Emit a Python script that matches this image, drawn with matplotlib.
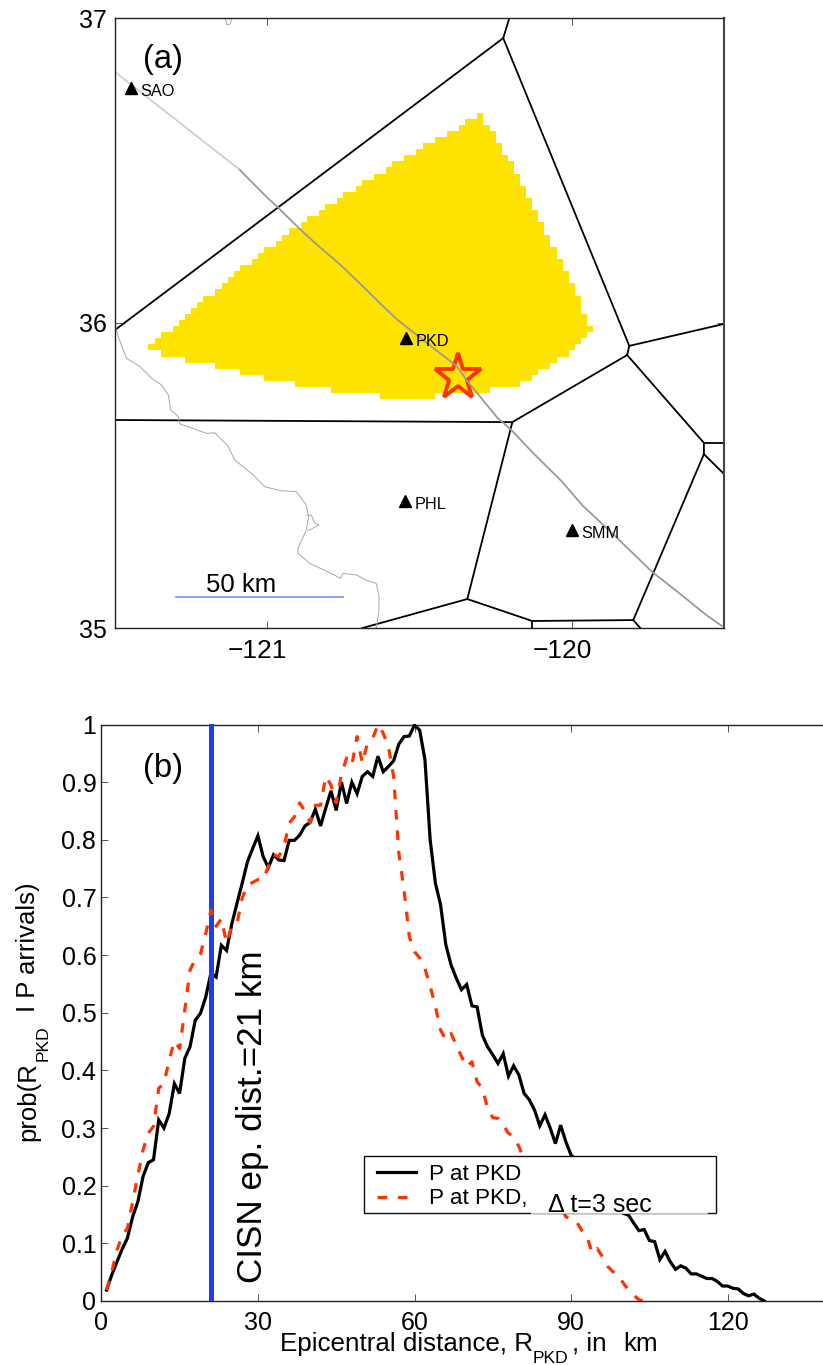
import numpy as np
import matplotlib
matplotlib.use('Agg')
import matplotlib.pyplot as plt
from matplotlib.patches import Rectangle
from matplotlib.transforms import ScaledTranslation

plt.rcParams['font.family'] = ['Liberation Sans', 'DejaVu Sans']

W, H = 823, 1365

# map data: lon, lat
yellow_lon0 = -121.39
yellow_step = 0.02
yellow_top = [35.93, 35.95, 35.97, 35.97, 35.99, 36.01, 36.03, 36.05, 36.07, 36.09, 36.09, 36.11, 36.13, 36.15, 36.17,
              36.19, 36.19, 36.21, 36.23, 36.25, 36.25, 36.27, 36.29, 36.31, 36.31, 36.33, 36.35, 36.35, 36.37, 36.39,
              36.39, 36.41, 36.43, 36.43, 36.45, 36.47, 36.47, 36.49, 36.49, 36.51, 36.53, 36.53, 36.55, 36.55, 36.57,
              36.59, 36.59, 36.61, 36.61, 36.63, 36.63, 36.65, 36.67, 36.67, 36.69, 36.65, 36.63, 36.59, 36.55, 36.53,
              36.49, 36.45, 36.41, 36.37, 36.33, 36.29, 36.25, 36.21, 36.17, 36.13, 36.09, 36.03, 35.99]
yellow_bot = [35.91, 35.91, 35.89, 35.89, 35.89, 35.89, 35.87, 35.87, 35.87, 35.87, 35.87, 35.85, 35.85, 35.85, 35.85,
              35.83, 35.83, 35.83, 35.83, 35.81, 35.81, 35.81, 35.81, 35.81, 35.79, 35.79, 35.79, 35.79, 35.79, 35.79,
              35.77, 35.77, 35.77, 35.77, 35.77, 35.77, 35.77, 35.77, 35.75, 35.75, 35.75, 35.75, 35.75, 35.75, 35.75,
              35.75, 35.75, 35.77, 35.77, 35.77, 35.77, 35.77, 35.77, 35.77, 35.77, 35.77, 35.79, 35.79, 35.79, 35.79,
              35.79, 35.81, 35.81, 35.83, 35.85, 35.85, 35.87, 35.89, 35.89, 35.91, 35.93, 35.95, 35.97]

cell_lon = [[-121.5, -120.225, -120.205], [-120.225, -119.811, -119.818, -120.195, -121.5], [-119.811, -119.5],
            [-120.195, -120.343, -120.687], [-120.343, -120.130, -119.798, -119.566, -119.566, -119.818],
            [-120.130, -120.130], [-119.798, -119.775], [-119.566, -119.5], [-119.566, -119.5]]
cell_lat = [[35.977, 36.934, 37.0], [36.934, 35.925, 35.895, 35.675, 35.682], [35.925, 35.997],
            [35.675, 35.095, 35.0], [35.095, 35.023, 35.026, 35.570, 35.607, 35.895],
            [35.023, 35.0], [35.026, 35.0], [35.607, 35.607], [35.570, 35.505]]

fault_far_lon = [-121.5, -121.09]
fault_far_lat = [36.823, 36.502]
fault_lon = [-121.09, -121.002, -120.966, -120.893, -120.828, -120.762, -120.697, -120.631, -120.572, -120.375,
             -120.346, -120.244, -120.198, -120.130, -120.031, -119.966, -119.854, -119.736, -119.648, -119.559, -119.507]
fault_lat = [36.502, 36.413, 36.380, 36.308, 36.249, 36.193, 36.131, 36.066, 36.010, 35.856,
             35.813, 35.689, 35.649, 35.577, 35.479, 35.403, 35.298, 35.184, 35.115, 35.043, 35.007]

coast_lon = [-121.497, -121.489, -121.473, -121.462, -121.418, -121.380, -121.347, -121.325, -121.317, -121.292,
             -121.287, -121.254, -121.199, -121.172, -121.128, -121.107, -121.046, -121.008, -120.954, -120.904,
             -120.872, -120.864, -120.872, -120.899, -120.899, -120.861, -120.790, -120.760, -120.751, -120.708,
             -120.675, -120.642, -120.633, -120.633, -120.642]
coast_lat = [35.983, 35.955, 35.911, 35.884, 35.857, 35.819, 35.797, 35.764, 35.715, 35.693,
             35.669, 35.658, 35.638, 35.640, 35.595, 35.551, 35.502, 35.463, 35.450, 35.447,
             35.403, 35.365, 35.321, 35.261, 35.245, 35.212, 35.179, 35.163, 35.179, 35.174,
             35.157, 35.146, 35.103, 35.059, 35.0]
bay_lon = [-120.872, -120.855, -120.844, -120.830, -120.866]
bay_lat = [35.370, 35.370, 35.343, 35.338, 35.319]
coast_top_lon = [-121.139, -121.132, -121.122, -121.116]
coast_top_lat = [37.0, 36.978, 36.98, 37.0]

stations = ['SAO', 'PKD', 'PHL', 'SMM']
sta_lon = [-121.449, -120.544, -120.549, -120.0]
sta_lat = [36.770, 35.952, 35.415, 35.321]

star_lon = -120.372
star_lat = 35.822
scale_lon = [-121.30, -120.752]
scale_lat = [35.102, 35.102]

# probability curves, one value per km
km_black = np.arange(1, 128)
p_black = [.019, .045, .068, .09, .109, .146, .172, .216, .24, .245,
           .314, .30, .325, .377, .36, .421, .441, .487, .499, .527,
           .569, .562, .617, .608, .654, .69, .725, .762, .785, .807,
           .771, .752, .774, .765, .764, .799, .799, .808, .824, .83,
           .853, .824, .855, .885, .851, .90, .863, .90, .88, .91,
           .918, .91, .945, .918, .927, .937, .966, .979, .98, .999,
           .99, .939, .80, .725, .687, .618, .583, .56, .54, .549,
           .512, .51, .461, .441, .427, .412, .429, .39, .408, .392,
           .36, .349, .331, .304, .323, .30, .273, .305, .276, .253,
           .245, .235, .225, .21, .20, .19, .18, .17, .16, .152,
           .149, .135, .122, .124, .105, .103, .072, .086, .068, .055,
           .061, .057, .047, .047, .043, .039, .039, .034, .026, .026,
           .022, .021, .013, .009, .012, .005, 0]
km_red = np.arange(1, 105)
p_red = [.019, .051, .088, .114, .126, .172, .218, .262, .291, .303,
         .369, .377, .418, .451, .438, .505, .574, .593, .602, .637,
         .678, .65, .663, .621, .65, .655, .699, .722, .726, .731,
         .731, .754, .774, .771, .788, .829, .84, .864, .85, .83,
         .86, .86, .91, .895, .864, .913, .942, .93, .979, .933,
         .968, .976, 1.0, .985, .962, .91, .777, .713, .632, .606,
         .595, .577, .546, .511, .47, .453, .464, .444, .424, .406,
         .415, .38, .369, .334, .318, .317, .305, .291, .285, .268,
         .245, .235, .225, .215, .205, .19, .175, .165, .146, .143,
         .138, .123, .114, .083, .091, .077, .06, .051, .045, .031,
         .019, .01, .002, 0]
cisn_dist = 21


def fx(x):
    return x / W


def fy(y):
    return 1 - y / H


fig = plt.figure(figsize=(W / 100, H / 100), dpi=100)

# (a) map
ax = fig.add_axes([fx(115), fy(628), 609 / W, 610 / H])
edges = yellow_lon0 + yellow_step * np.arange(len(yellow_top) + 1)
ax.fill_between(edges, yellow_bot + yellow_bot[-1:], yellow_top + yellow_top[-1:], step='post', color='#FFE300', lw=0)
for lo, la in zip(cell_lon, cell_lat):
    ax.plot(lo, la, color='k', lw=1.3)
ax.plot(coast_lon, coast_lat, color='#a8a8a8', lw=0.7)
ax.plot(bay_lon, bay_lat, color='#a8a8a8', lw=0.7)
ax.plot(coast_top_lon, coast_top_lat, color='#a8a8a8', lw=0.7)
ax.plot(fault_far_lon, fault_far_lat, color='#cccccc', lw=1.2)
ax.plot(star_lon, star_lat, marker='*', ms=35, mfc='none', mec='#FF3300', mew=2.8, ls='none')
ax.plot(fault_lon, fault_lat, color='#999999', lw=1.3)
ax.plot(sta_lon, sta_lat, '^', color='k', ms=9, ls='none')
for name, lo, la in zip(stations, sta_lon, sta_lat):
    ax.annotate(name, (lo, la), xytext=(7, -5.8), textcoords='offset points', fontsize=11.7, va='baseline')
ax.plot(scale_lon, scale_lat, color='#7f97f2', lw=1.3)
ax.set_xlim(-121.5, -119.5)
ax.set_ylim(35, 37)
ax.set_xticks([-121, -120])
ax.set_yticks([35, 36, 37])
ax.tick_params(direction='in', top=True, right=True, length=5, width=0.7, color='#555555', labelsize=18)
ax.tick_params(axis='x', pad=8, labelsize=19)
ax.tick_params(axis='y', pad=5.8)
# digits sit on the tick, the minus hangs out to the left
shift = ScaledTranslation(-9.5 / 100, 0, fig.dpi_scale_trans)
for lab in ax.get_xticklabels():
    lab.set_transform(lab.get_transform() + shift)
for s in ax.spines.values():
    s.set_linewidth(1.0)
    s.set_color('#222222')
ax.spines['right'].set_linewidth(1.5)
ax.spines['right'].set_color('#444444')

fig.text(fx(206), fy(592), '50 km', fontsize=18.5, va='baseline')
fig.text(fx(143), fy(68), '(a)', fontsize=23.5, va='baseline')

# (b) curves
ax2 = fig.add_axes([fx(101.3), fy(1301), 140 * 5.22 / W, 576.5 / H])
ax2.plot(km_black, p_black, color='k', lw=2.3, label='P at PKD', solid_joinstyle='miter', zorder=3)
ax2.axvline(cisn_dist, color='#1c3df0', lw=3.6, zorder=3)
ax2.plot(km_red, p_red, color='#FF3300', lw=2.3, dashes=(3, 3.4), label='P at PKD,', zorder=3)
ax2.set_xlim(0, 140)
ax2.set_ylim(0, 1)
ax2.set_xticks([0, 30, 60, 90, 120])
ax2.set_yticks(np.arange(0, 1.01, 0.1))
ax2.set_yticklabels(['0', '0.1', '0.2', '0.3', '0.4', '0.5', '0.6', '0.7', '0.8', '0.9', '1'])
ax2.tick_params(direction='in', top=True, right=True, length=5, width=0.7, color='#555555', labelsize=18)
ax2.tick_params(axis='x', pad=7.5)
ax2.tick_params(axis='y', pad=3.6)
for s in ax2.spines.values():
    s.set_linewidth(1.0)
    s.set_color('#222222')

# legend frame drawn apart, its padding is not the same in x and y
ax2.add_patch(Rectangle((fx(363.5), fy(1212.7)), 352.5 / W, 57 / H, transform=fig.transFigure, fc='white',
                        ec='#111111', lw=1.0, zorder=4, clip_on=False))
leg = ax2.legend(loc='upper left', bbox_to_anchor=(fx(363.5), fy(1210), 352.5 / W, 59.5 / H),
                 bbox_transform=fig.transFigure, borderaxespad=0, fontsize=16.2, frameon=False,
                 handlelength=1.75, handletextpad=0.55, borderpad=0.6, labelspacing=0.15)

# white strip behind the delta text cuts the legend border
fig.add_artist(Rectangle((fx(531), fy(1213.8)), 176 / W, 22 / H, transform=fig.transFigure, fc='white', ec='none', zorder=10))
fig.add_artist(plt.Line2D([fx(531), fx(707)], [fy(1213.2), fy(1213.2)], color='#c4c4c4', lw=0.8, zorder=11))
fig.text(fx(548), fy(1212.3), '\u0394 t=3 sec', fontsize=18, va='baseline', zorder=12)

fig.text(fx(143), fy(777), '(b)', fontsize=23.5, va='baseline')
fig.text(fx(262), fy(1283), 'CISN ep. dist.=21 km', fontsize=25.2, rotation=90, rotation_mode='anchor',
         ha='left', va='baseline')

# axis labels put together from pieces so the subscript lands where it should
fig.text(fx(280), fy(1351), 'Epicentral distance, R', fontsize=18.7, va='baseline')
fig.text(fx(533), fy(1363), 'PKD', fontsize=12.6, va='baseline')
fig.text(fx(572), fy(1351), ', in', fontsize=18.7, va='baseline')
fig.text(fx(623), fy(1351), 'km', fontsize=18.7, va='baseline')
rot = dict(rotation=90, rotation_mode='anchor', ha='left', va='baseline')
fig.text(fx(35), fy(1141), 'prob(R', fontsize=18.5, **rot)
fig.text(fx(48), fy(1061), 'PKD', fontsize=12.6, **rot)
fig.text(fx(35), fy(1012), 'I P arrivals)', fontsize=18.5, **rot)

fig.savefig('out.png', dpi=100)
